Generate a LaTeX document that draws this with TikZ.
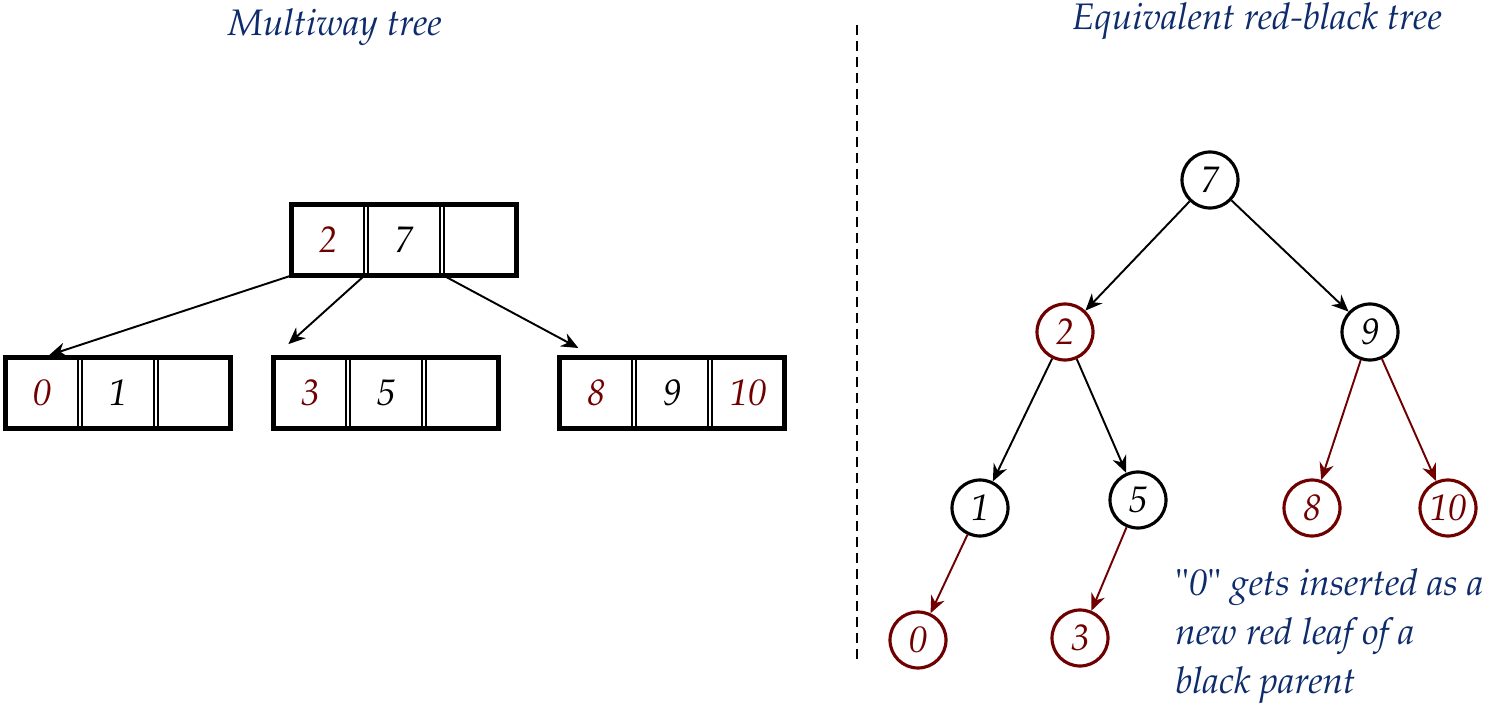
\documentclass[tikz,border=0pt]{standalone}
\usepackage[T1]{fontenc}
\usepackage{mathpazo}
\usepackage{tikz}
\usetikzlibrary{arrows.meta, positioning, fit}
\definecolor{rbred}{RGB}{112,0,0}
\definecolor{capblue}{RGB}{14,44,108}
\tikzstyle{arrow} = [line width=1.1pt, -{Stealth[length=3.4mm, width=2.9mm, inset=1.1mm]}]

\begin{document}
\begin{tikzpicture}[x=0.2mm, y=-0.2mm,
    cell/.style={rectangle, draw, line width=0.6pt, minimum width=14.4mm, minimum height=14mm, inner sep=0pt, font=\fontsize{21}{25}\selectfont\itshape},
    boxframe/.style={draw, line width=2.6pt, inner sep=0pt},
    blacknode/.style={circle, draw, line width=1.8pt, minimum size=11.2mm, inner sep=0pt, font=\fontsize{21}{25}\selectfont\itshape},
    rednode/.style={blacknode, draw=rbred, text=rbred},
    headline/.style={text=capblue, font=\fontsize{21}{28}\selectfont\itshape},
]
\useasboundingbox (0,0) rectangle (1501,717);

% Titles
\node[headline] (titleL) at (335,27) {Multiway tree};
\node[headline] (titleR) at (1257,21) {Equivalent red-black tree};

% Separator
\coordinate (sepTop) at (857,25);
\coordinate (sepBot) at (857,660);
\draw[line width=1pt, dash pattern=on 2mm off 1.2mm] (sepTop) -- (sepBot);

% Multiway tree: root
\node[cell, text=rbred] (t1) at (328,240) {2};
\node[cell] (t2) at (404,240) {7};
\node[cell] (t3) at (480,240) {};
\node[boxframe, fit=(t1)(t3)] (top) {};

% Multiway tree: left child
\node[cell, text=rbred] (l1) at (42,393) {0};
\node[cell] (l2) at (118,393) {1};
\node[cell] (l3) at (194,393) {};
\node[boxframe, fit=(l1)(l3)] (left) {};

% Multiway tree: middle child
\node[cell, text=rbred] (m1) at (310,393) {3};
\node[cell] (m2) at (386,393) {5};
\node[cell] (m3) at (462,393) {};
\node[boxframe, fit=(m1)(m3)] (mid) {};

% Multiway tree: right child
\node[cell, text=rbred] (r1) at (596,393) {8};
\node[cell] (r2) at (672,393) {9};
\node[cell, text=rbred] (r3) at (748,393) {10};
\node[boxframe, fit=(r1)(r3)] (right) {};

\draw[arrow, shorten >=1.5mm] (t1.south west) -- (l1.north);
\draw[arrow, shorten >=4mm] (t1.south east) -- (m1.north west);
\draw[arrow, shorten >=4mm] (t3.south west) -- (r1.north);

% Red-black tree
\node[blacknode] (n7) at (1210,180) {7};
\node[rednode] (n2) at (1065,332) {2};
\node[blacknode] (n9) at (1370,332) {9};
\node[blacknode] (n1) at (980,508) {1};
\node[blacknode] (n5) at (1138,500) {5};
\node[rednode] (n8) at (1312,508) {8};
\node[rednode] (n10) at (1448,508) {10};
\node[rednode] (n0) at (918,640) {0};
\node[rednode] (n3) at (1080,638) {3};

\draw[arrow] (n7) -- (n2);
\draw[arrow] (n7) -- (n9);
\draw[arrow] (n2) -- (n1);
\draw[arrow] (n2) -- (n5);
\draw[arrow, rbred] (n9) -- (n8);
\draw[arrow, rbred] (n9) -- (n10);
\draw[arrow, rbred] (n1) -- (n0);
\draw[arrow, rbred] (n5) -- (n3);

% Annotation
\node[headline, anchor=north west, align=left, inner sep=0pt] (note) at (1175,568)
    {{\upshape\textquotedbl}0{\upshape\textquotedbl} gets inserted as a\\new red leaf of a\\black parent};

\end{tikzpicture}
\end{document}
